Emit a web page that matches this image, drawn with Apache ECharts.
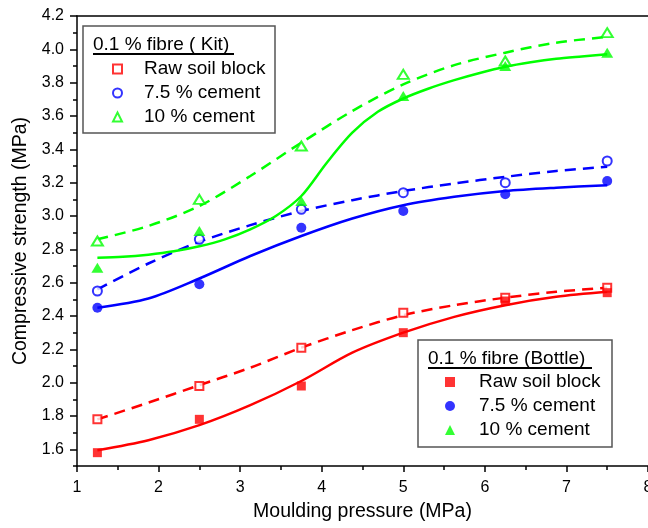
<!DOCTYPE html>
<html>
<head>
<meta charset="utf-8">
<script src="https://cdn.jsdelivr.net/npm/echarts@6/dist/echarts.min.js"></script>
<style>
html,body{margin:0;padding:0;background:#fff;}
#chart{width:648px;height:528px;}
</style>
</head>
<body>
<div id="chart"></div>
<script>
// ---- data ----
const xPoints = [1.25, 2.5, 3.75, 5, 6.25, 7.5];
const kitRaw = [1.78, 1.98, 2.21, 2.42, 2.51, 2.57];
const kitCem75 = [2.55, 2.86, 3.04, 3.14, 3.20, 3.33];
const kitCem10 = [2.85, 3.10, 3.42, 3.85, 3.93, 4.10];
const bottleRaw = [1.58, 1.78, 1.98, 2.30, 2.49, 2.54];
const bottleCem75 = [2.45, 2.59, 2.93, 3.03, 3.13, 3.21];
const bottleCem10 = [2.69, 2.91, 3.09, 3.72, 3.90, 3.98];

// fitted curves
const fitX = [1.25, 1.875, 2.5, 3.125, 3.75, 4.375, 5, 5.625, 6.25, 6.875, 7.5];
const fitKitRaw = [1.78, 1.88, 1.985, 2.09, 2.21, 2.315, 2.405, 2.465, 2.51, 2.545, 2.57];
const fitKitCem75 = [2.56, 2.715, 2.845, 2.945, 3.03, 3.095, 3.15, 3.195, 3.235, 3.27, 3.295];
const fitKitCem10 = [2.86, 2.94, 3.06, 3.24, 3.44, 3.63, 3.79, 3.905, 3.98, 4.04, 4.075];
const fitBottleRaw = [1.595, 1.655, 1.745, 1.865, 2.01, 2.18, 2.30, 2.395, 2.465, 2.515, 2.545];
const fitBottleCem75 = [2.45, 2.505, 2.625, 2.76, 2.88, 2.985, 3.065, 3.115, 3.15, 3.17, 3.185];
const fitXFine = [1.25, 1.5625, 1.875, 2.1875, 2.5, 2.8125, 3.125, 3.4375, 3.75, 4.0625, 4.375,
                  4.6875, 5, 5.3125, 5.625, 5.9375, 6.25, 6.5625, 6.875, 7.1875, 7.5];
const fitBottleCem10 = [2.75, 2.755, 2.768, 2.788, 2.818, 2.86, 2.92, 3.00, 3.12, 3.32, 3.50,
                        3.625, 3.705, 3.765, 3.815, 3.858, 3.895, 3.922, 3.943, 3.957, 3.97];

const yMajor = [1.6, 1.8, 2.0, 2.2, 2.4, 2.6, 2.8, 3.0, 3.2, 3.4, 3.6, 3.8, 4.0, 4.2];
const yMinor = [1.5, 1.7, 1.9, 2.1, 2.3, 2.5, 2.7, 2.9, 3.1, 3.3, 3.5, 3.7, 3.9, 4.1];

const RED = '#ff0000', BLUE = '#0000ff', GREEN = '#00ff00';
const FONT = 'Liberation Sans';

function pairs(xs, ys) { return xs.map((x, i) => [x, ys[i]]); }

function scatter(name, ys, symbol, size, color) {
  return {
    type: 'scatter', name: name, data: pairs(xPoints, ys),
    symbol: symbol, symbolSize: size, z: 5,
    itemStyle: { color: color, borderWidth: 1 },
    emphasis: { disabled: true }, silent: true
  };
}
function fit(xs, ys, color, dashed) {
  return {
    type: 'line', data: pairs(xs, ys), smooth: 0.3, showSymbol: false, z: 3,
    lineStyle: { color: color, width: 2.5, type: dashed ? [11, 7] : 'solid' },
    emphasis: { disabled: true }, silent: true
  };
}

const chart = echarts.init(document.getElementById('chart'), null, { renderer: 'canvas' });
const legendText = (pad) => ({ fontSize: 19, fontFamily: FONT, color: '#000', lineHeight: 24, padding: [0, 0, 0, pad] });
const stripName = n => n.replace(/ \[.*\]$/, '');

chart.setOption({
  animation: false,
  backgroundColor: '#fff',
  grid: { left: 77, right: 0, top: 16, bottom: 62, containLabel: false, outerBoundsMode: 'none' },
  xAxis: [{
    type: 'value', min: 1, max: 8, interval: 1,
    name: 'Moulding pressure (MPa)', nameLocation: 'middle', nameGap: 36,
    nameTextStyle: { fontSize: 19.5, fontFamily: FONT, color: '#000' },
    axisLine: { show: true, onZero: false, lineStyle: { color: '#000', width: 1.5 } },
    axisTick: { show: true, inside: false, length: 6, lineStyle: { color: '#000', width: 1.5 } },
    minorTick: { show: true, splitNumber: 2, length: 4, lineStyle: { color: '#000', width: 1.5 } },
    axisLabel: { fontSize: 16, fontFamily: FONT, color: '#000', margin: 14, hideOverlap: false },
    splitLine: { show: false }
  }, {
    type: 'value', min: 1, max: 8, position: 'top',
    axisLine: { show: true, onZero: false, lineStyle: { color: '#000', width: 1.5 } },
    axisTick: { show: false }, axisLabel: { show: false }, splitLine: { show: false }
  }],
  yAxis: [{
    type: 'value', min: 1.5, max: 4.2, position: 'left',
    name: 'Compressive strength (MPa)', nameLocation: 'middle', nameGap: 46, nameRotate: 90,
    nameTextStyle: { fontSize: 19.5, fontFamily: FONT, color: '#000' },
    axisLine: { show: true, onZero: false, lineStyle: { color: '#000', width: 1.5 } },
    axisTick: { show: true, inside: false, length: 7, customValues: yMajor, lineStyle: { color: '#000', width: 1.5 } },
    axisLabel: { customValues: yMajor, formatter: v => v.toFixed(1), fontSize: 16, fontFamily: FONT, color: '#000', margin: 13 },
    splitLine: { show: false }
  }, {
    type: 'value', min: 1.5, max: 4.2, position: 'left', offset: 0,
    axisLine: { show: false },
    axisTick: { show: true, inside: false, length: 4, customValues: yMinor, lineStyle: { color: '#000', width: 1.5 } },
    axisLabel: { show: false }, splitLine: { show: false }
  }],
  legend: [{
    orient: 'vertical', left: 112, top: 57, padding: 0, itemGap: 0,
    itemWidth: 9, itemHeight: 9, selectedMode: false,
    formatter: stripName, textStyle: legendText(17),
    data: [
      { name: 'Raw soil block [Kit]', icon: 'emptyRect' },
      { name: '7.5 % cement [Kit]', icon: 'emptyCircle' },
      { name: '10 % cement [Kit]', icon: 'emptyTriangle' }
    ]
  }, {
    orient: 'vertical', left: 445, top: 370, padding: 0, itemGap: 0,
    itemWidth: 10, itemHeight: 10, selectedMode: false,
    formatter: stripName, textStyle: legendText(19),
    data: [
      { name: 'Raw soil block [Bottle]', icon: 'rect' },
      { name: '7.5 % cement [Bottle]', icon: 'circle' },
      { name: '10 % cement [Bottle]', icon: 'triangle' }
    ]
  }],
  graphic: [
    { type: 'rect', shape: { x: 83, y: 26, width: 192, height: 107 }, style: { fill: 'none', stroke: '#555', lineWidth: 1.5 }, z: 10, silent: true },
    { type: 'text', x: 93, y: 45, style: { text: '0.1 % fibre ( Kit)', font: '19px "Liberation Sans"', fill: '#000', verticalAlign: 'middle' }, z: 10, silent: true },
    { type: 'line', shape: { x1: 93, y1: 54, x2: 234, y2: 54 }, style: { stroke: '#000', lineWidth: 2 }, z: 10, silent: true },
    { type: 'rect', shape: { x: 418, y: 340, width: 194, height: 107 }, style: { fill: 'none', stroke: '#555', lineWidth: 1.5 }, z: 10, silent: true },
    { type: 'text', x: 428, y: 359, style: { text: '0.1 % fibre (Bottle)', font: '19px "Liberation Sans"', fill: '#000', verticalAlign: 'middle' }, z: 10, silent: true },
    { type: 'line', shape: { x1: 428, y1: 368, x2: 592, y2: 368 }, style: { stroke: '#000', lineWidth: 2 }, z: 10, silent: true }
  ],
  series: [
    fit(fitX, fitKitRaw, RED, true),
    fit(fitX, fitKitCem75, BLUE, true),
    fit(fitX, fitKitCem10, GREEN, true),
    fit(fitX, fitBottleRaw, RED, false),
    fit(fitX, fitBottleCem75, BLUE, false),
    fit(fitXFine, fitBottleCem10, GREEN, false),
    scatter('Raw soil block [Kit]', kitRaw, 'emptyRect', 8, RED),
    scatter('7.5 % cement [Kit]', kitCem75, 'emptyCircle', 9, BLUE),
    scatter('10 % cement [Kit]', kitCem10, 'emptyTriangle', [11, 9], GREEN),
    scatter('Raw soil block [Bottle]', bottleRaw, 'rect', 9, RED),
    scatter('7.5 % cement [Bottle]', bottleCem75, 'circle', 10, BLUE),
    scatter('10 % cement [Bottle]', bottleCem10, 'triangle', [12, 10], GREEN)
  ]
});
</script>
</body>
</html>
